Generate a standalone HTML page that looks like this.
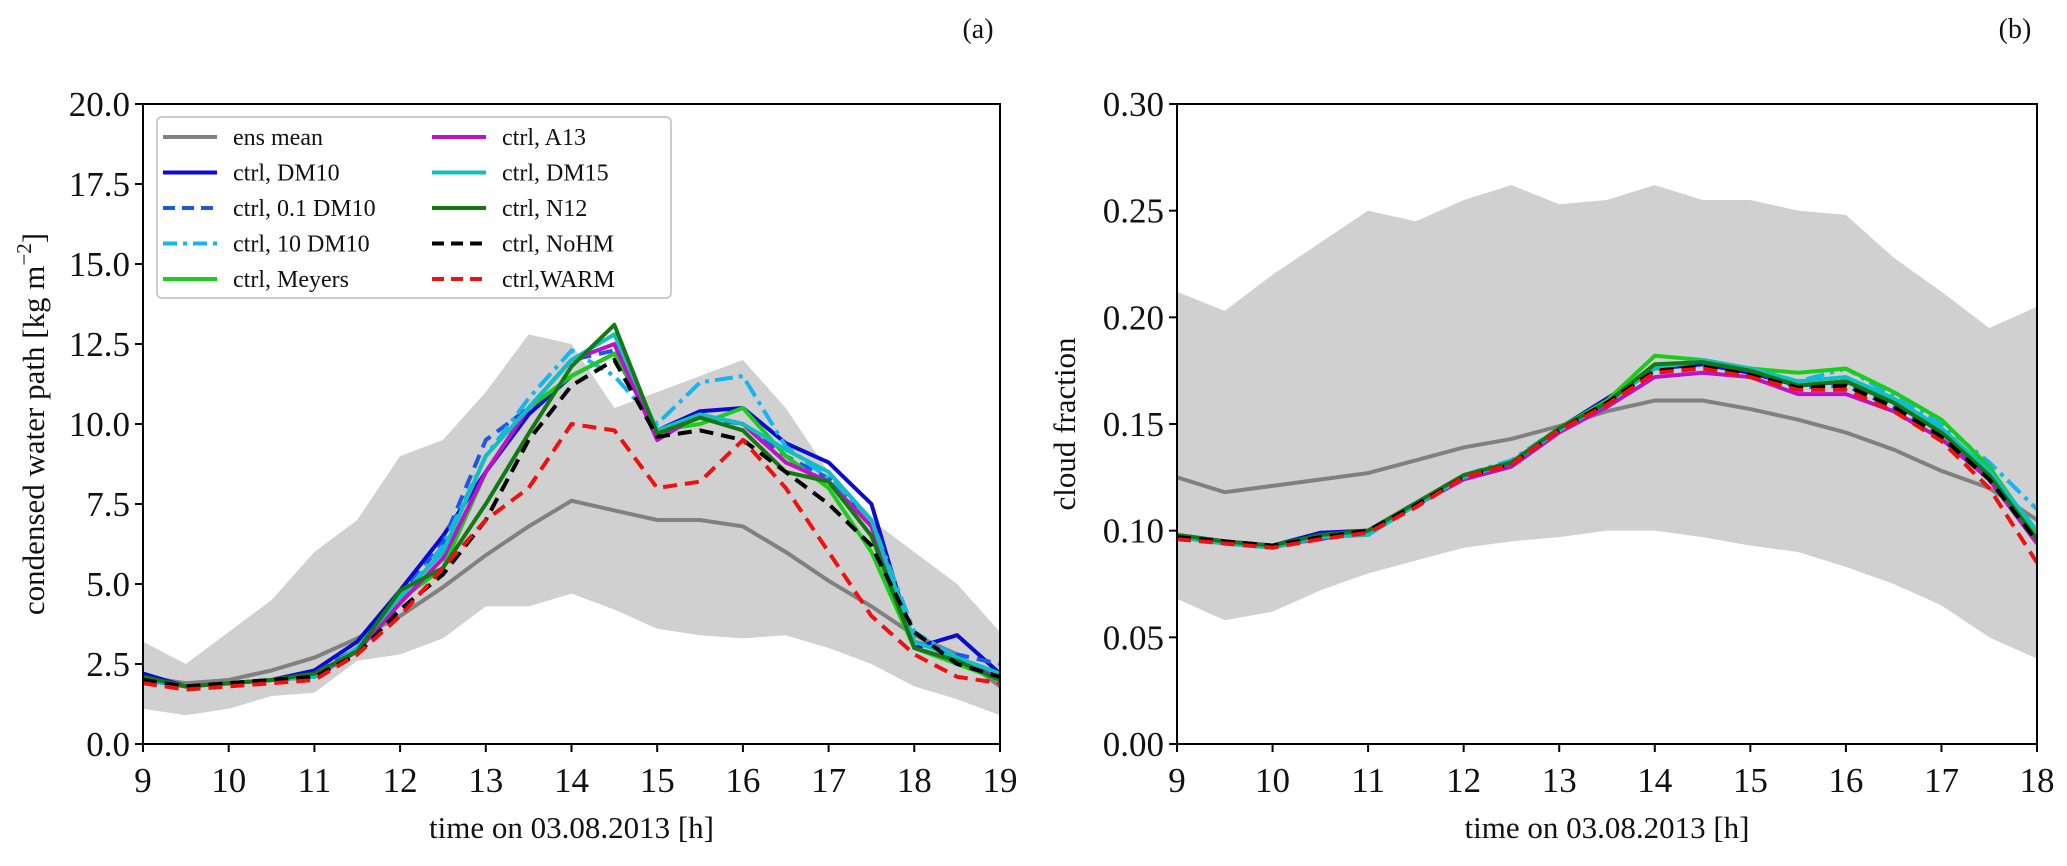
<!DOCTYPE html>
<html><head><meta charset="utf-8"><style>
body{margin:0;background:#fff}
svg text{font-family:"Liberation Serif",serif;fill:#111}
</style></head><body>
<svg id="fig" width="2067" height="861" viewBox="0 0 2067 861" xmlns="http://www.w3.org/2000/svg"></svg>
<script>
// ---- panel (a) data ----
const tA = [9,9.5,10,10.5,11,11.5,12,12.5,13,13.5,14,14.5,15,15.5,16,16.5,17,17.5,18,18.5,19];
const aUpper = [3.2,2.5,3.5,4.5,6.0,7.0,9.0,9.5,11.0,12.8,12.5,10.5,11.0,11.5,12.0,10.5,8.5,7.0,6.0,5.0,3.5];
const aLower = [1.1,0.9,1.1,1.5,1.6,2.6,2.8,3.3,4.3,4.3,4.7,4.2,3.6,3.4,3.3,3.4,3.0,2.5,1.8,1.4,0.9];
const aEns   = [2.1,1.9,2.0,2.3,2.7,3.3,4.0,4.9,5.9,6.8,7.6,7.3,7.0,7.0,6.8,6.0,5.1,4.3,3.4,2.8,1.8];
const aDM10  = [2.2,1.8,1.9,2.0,2.3,3.2,4.8,6.5,8.5,10.3,11.5,12.2,9.8,10.4,10.5,9.4,8.8,7.5,3.0,3.4,2.2];
const aDM01  = [2.1,1.8,1.9,2.0,2.2,3.0,4.6,6.3,9.5,10.5,12.0,12.3,9.8,10.2,10.0,9.0,8.3,7.0,3.2,2.8,2.5];
const aDM100 = [2.0,1.8,1.9,2.0,2.1,3.0,4.5,6.2,9.0,10.8,12.3,11.5,10.0,11.3,11.5,9.3,8.3,7.0,3.5,2.7,2.2];
const aMey   = [2.0,1.8,1.9,2.0,2.1,2.9,4.5,5.5,8.5,10.5,11.5,12.2,9.8,10.0,10.5,9.0,8.0,6.0,3.0,2.5,2.0];
const aA13   = [2.0,1.8,1.9,2.0,2.1,2.9,4.4,5.8,8.5,10.5,12.0,12.5,9.5,10.3,10.0,8.8,8.2,6.8,3.0,2.6,2.1];
const aDM15  = [2.0,1.8,1.9,2.0,2.1,3.0,4.6,6.0,9.0,10.5,12.0,12.8,9.8,10.3,10.0,9.2,8.5,7.0,3.2,2.7,2.2];
const aN12   = [2.1,1.8,1.9,2.0,2.2,2.9,4.8,5.5,7.5,9.7,11.8,13.1,9.7,10.2,9.8,8.5,8.2,6.5,3.0,2.6,2.0];
const aNoHM  = [2.0,1.8,1.9,2.0,2.1,2.8,4.2,5.3,7.0,9.5,11.2,12.0,9.6,9.8,9.5,8.5,7.5,6.2,3.5,2.5,2.1];
const aWARM  = [1.9,1.7,1.8,1.9,2.0,2.8,4.0,5.5,7.0,8.0,10.0,9.8,8.0,8.2,9.5,8.0,6.0,4.0,2.8,2.1,1.9];
const aYTicks = ["0.0","2.5","5.0","7.5","10.0","12.5","15.0","17.5","20.0"];
const aXTicks = [9,10,11,12,13,14,15,16,17,18,19];
// ---- panel (b) data ----
const tB = [9,9.5,10,10.5,11,11.5,12,12.5,13,13.5,14,14.5,15,15.5,16,16.5,17,17.5,18];
const bUpper = [0.212,0.203,0.220,0.235,0.250,0.245,0.255,0.262,0.253,0.255,0.262,0.255,0.255,0.250,0.248,0.228,0.212,0.195,0.205];
const bLower = [0.068,0.058,0.062,0.072,0.080,0.086,0.092,0.095,0.097,0.100,0.100,0.097,0.093,0.090,0.083,0.075,0.065,0.050,0.040];
const bEns   = [0.125,0.118,0.121,0.124,0.127,0.133,0.139,0.143,0.149,0.156,0.161,0.161,0.157,0.152,0.146,0.138,0.128,0.120,0.105];
const bDM10  = [0.098,0.095,0.093,0.099,0.100,0.113,0.126,0.132,0.148,0.162,0.176,0.178,0.174,0.168,0.170,0.160,0.146,0.126,0.095];
const bDM01  = [0.097,0.095,0.093,0.098,0.100,0.112,0.125,0.131,0.148,0.160,0.175,0.178,0.175,0.167,0.168,0.158,0.145,0.125,0.096];
const bDM100 = [0.097,0.094,0.093,0.097,0.099,0.112,0.126,0.133,0.148,0.160,0.176,0.180,0.176,0.170,0.176,0.163,0.150,0.132,0.110];
const bMey   = [0.097,0.094,0.092,0.097,0.100,0.112,0.125,0.132,0.148,0.161,0.182,0.180,0.176,0.174,0.176,0.165,0.152,0.130,0.098];
const bA13   = [0.098,0.095,0.093,0.096,0.100,0.112,0.124,0.130,0.146,0.158,0.172,0.174,0.172,0.164,0.164,0.156,0.143,0.124,0.094];
const bDM15  = [0.097,0.094,0.092,0.097,0.098,0.112,0.125,0.132,0.147,0.160,0.176,0.180,0.176,0.170,0.172,0.162,0.148,0.128,0.100];
const bN12   = [0.098,0.095,0.093,0.098,0.100,0.113,0.126,0.132,0.148,0.160,0.178,0.179,0.175,0.168,0.170,0.160,0.146,0.126,0.096];
const bNoHM  = [0.097,0.095,0.093,0.097,0.100,0.112,0.125,0.131,0.147,0.160,0.175,0.177,0.173,0.167,0.168,0.158,0.144,0.124,0.095];
const bWARM  = [0.096,0.094,0.092,0.096,0.099,0.111,0.125,0.131,0.147,0.159,0.174,0.176,0.172,0.166,0.166,0.156,0.142,0.120,0.085];
const bYTicks = ["0.00","0.05","0.10","0.15","0.20","0.25","0.30"];
const bXTicks = [9,10,11,12,13,14,15,16,17,18];

const NS="http://www.w3.org/2000/svg";
const svg=document.getElementById('fig');
function mk(tag,attrs,parent){const e=document.createElementNS(NS,tag);for(const k in attrs)e.setAttribute(k,attrs[k]);(parent||svg).appendChild(e);return e;}

const styles=[
 {c:'#0a0ad0',d:null,n:'ctrl-dm10'},
 {c:'#1f55e8',d:'14 8',n:'ctrl-0.1-dm10'},
 {c:'#14b4f5',d:'18 6 4 6',n:'ctrl-10-dm10'},
 {c:'#1ccc1c',d:null,n:'ctrl-meyers'},
 {c:'#c010c8',d:null,n:'ctrl-a13'},
 {c:'#12bfbf',d:null,n:'ctrl-dm15'},
 {c:'#137a13',d:null,n:'ctrl-n12'},
 {c:'#000',d:'14 8',n:'ctrl-nohm'},
 {c:'#f01010',d:'14 8',n:'ctrl-warm'}];

function panel(o){
  const g=mk('g',{});
  
  
  const X=v=>o.x0+(v-o.xmin)/(o.xmax-o.xmin)*(o.x1-o.x0);
  const Y=v=>o.y0-(v-o.ymin)/(o.ymax-o.ymin)*(o.y0-o.y1);
  const clip='clip-'+o.name;
  const cp=mk('clipPath',{id:clip},g);mk('rect',{x:o.x0,y:o.y1,width:o.x1-o.x0,height:o.y0-o.y1},cp);
  const pg=mk('g',{'clip-path':'url(#'+clip+')'},g);
  let pts=o.t.map((t,i)=>X(t)+','+Y(o.up[i]));
  pts=pts.concat(o.t.map((t,i)=>X(t)+','+Y(o.lo[i])).reverse());
  const band=mk('polygon',{points:pts.join(' '),fill:'#d0d0d0'},pg);
  
  
  const ens=mk('polyline',{points:o.t.map((t,i)=>X(t)+','+Y(o.ens[i])).join(' '),fill:'none',stroke:'#808080','stroke-width':4},pg);
  
  
  o.series.forEach((s,k)=>{
    const st=styles[k];
    const a={points:o.t.map((t,i)=>X(t)+','+Y(s[i])).join(' '),fill:'none',stroke:st.c,'stroke-width':4,'stroke-linejoin':'round'};
    if(st.d)a['stroke-dasharray']=st.d;
    const l=mk('polyline',a,pg);
    
    
  });
  const fr=mk('rect',{x:o.x0,y:o.y1,width:o.x1-o.x0,height:o.y0-o.y1,fill:'none',stroke:'#000','stroke-width':2},g);
  
  
  o.xt.forEach(v=>{
    mk('line',{x1:X(v),x2:X(v),y1:o.y0,y2:o.y0+8,stroke:'#000','stroke-width':2},g);
    const t=mk('text',{x:X(v),y:o.y0+48,'text-anchor':'middle','font-size':35},g);t.textContent=v;
    
    
  });
  o.yt.forEach((lab,i)=>{
    const v=o.ymin+i*(o.ymax-o.ymin)/(o.yt.length-1);
    mk('line',{x1:o.x0-8,x2:o.x0,y1:Y(v),y2:Y(v),stroke:'#000','stroke-width':2},g);
    const t=mk('text',{x:o.x0-13,y:Y(v)+12,'text-anchor':'end','font-size':35},g);t.textContent=lab;
    
    
  });
  const xl=mk('text',{x:(o.x0+o.x1)/2,y:838,'text-anchor':'middle','font-size':31},g);xl.textContent='time on 03.08.2013 [h]';
  
  
  const yl=mk('text',{x:0,y:0,'text-anchor':'middle','font-size':31,transform:'translate('+o.ylx+',424) rotate(-90)'},g);
  yl.innerHTML=o.ylab;
  
  
  const pl=mk('text',{x:o.x1-22,y:38,'text-anchor':'middle','font-size':28},g);pl.textContent=o.plab;
  
  
}

panel({name:'panel-a',x0:143,x1:1000,y0:744,y1:104,xmin:9,xmax:19,ymin:0,ymax:20,t:tA,up:aUpper,lo:aLower,ens:aEns,
 series:[aDM10,aDM01,aDM100,aMey,aA13,aDM15,aN12,aNoHM,aWARM],xt:aXTicks,yt:aYTicks,ylx:44,
 ylab:'condensed water path [kg m<tspan font-size="21" dy="-13">−2</tspan><tspan dy="13">]</tspan>',plab:'(a)'});
panel({name:'panel-b',x0:1177,x1:2037,y0:744,y1:104,xmin:9,xmax:18,ymin:0,ymax:0.30,t:tB,up:bUpper,lo:bLower,ens:bEns,
 series:[bDM10,bDM01,bDM100,bMey,bA13,bDM15,bN12,bNoHM,bWARM],xt:bXTicks,yt:bYTicks,ylx:1075,
 ylab:'cloud fraction',plab:'(b)'});

const lg=mk('g',{});


mk('rect',{x:157,y:117,width:514,height:181,rx:5,fill:'#fff','fill-opacity':0.85,stroke:'#ccc','stroke-width':2},lg);
const legItems=[{c:'#808080',d:null,lab:'ens mean'}].concat(styles.map((s,i)=>({c:s.c,d:s.d,lab:['ctrl, DM10','ctrl, 0.1 DM10','ctrl, 10 DM10','ctrl, Meyers','ctrl, A13','ctrl, DM15','ctrl, N12','ctrl, NoHM','ctrl,WARM'][i]})));
legItems.forEach((it,i)=>{
  const col=i<5?0:1,row=i<5?i:i-5;
  const lx=col?432:163, ty=137+row*35.5;
  const a={x1:lx,x2:lx+54,y1:ty,y2:ty,stroke:it.c,'stroke-width':4};
  if(it.d)a['stroke-dasharray']=it.d==='18 6 4 6'?'14 6 4 6':'12 7';
  const ln=mk('line',a,lg);
  
  
  const t=mk('text',{x:lx+70,y:ty+8,'font-size':24},lg);t.textContent=it.lab;
  
  
});
</script>
</body></html>
